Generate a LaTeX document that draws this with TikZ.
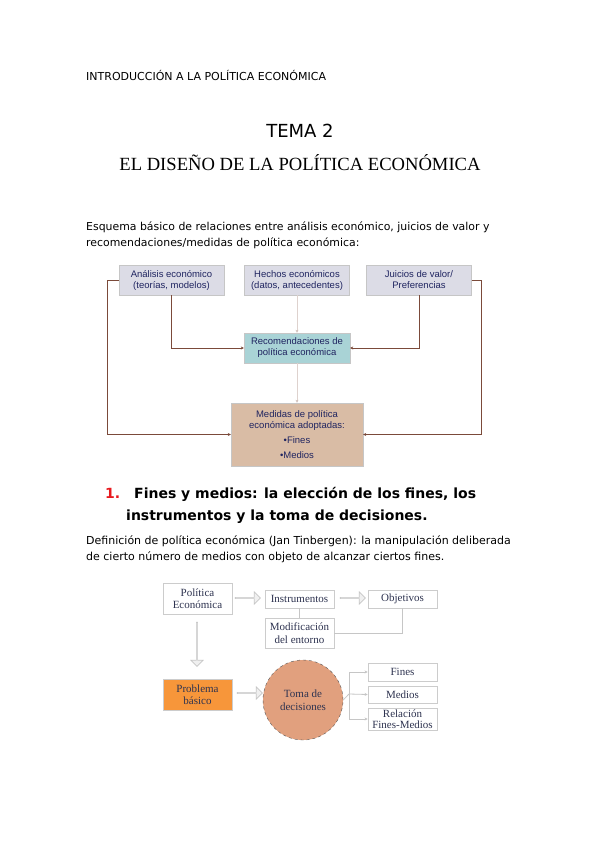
\documentclass[tikz,border=0pt]{standalone}
\usepackage{fontspec}
\setmainfont{DejaVu Sans}
\newfontfamily\arialf{Liberation Sans}
\newfontfamily\timesf{Liberation Serif}
\usetikzlibrary{shapes.arrows,arrows.meta}
\definecolor{navy}{HTML}{1F2460}
\definecolor{lav}{HTML}{DCDCE6}
\definecolor{teal1}{HTML}{A9D3D6}
\definecolor{tan1}{HTML}{D9BCA5}
\definecolor{brownl}{HTML}{7B4A3A}
\definecolor{orng}{HTML}{F7963A}
\definecolor{salmon1}{HTML}{E1A07E}
\definecolor{dtext}{HTML}{2E3350}
\definecolor{redn}{HTML}{E8191E}
\tikzset{
  txt/.style={inner sep=0pt, anchor=base west},
  boxa/.style={draw=gray!45, fill=lav, minimum width=105pt, minimum height=30pt, inner sep=1pt,
     align=center, font=\arialf\fontsize{9.5}{11}\selectfont, text=navy},
  conn/.style={draw=brownl, line width=0.7pt, -{Stealth[length=3pt,width=3pt]}},
  faint/.style={draw=brownl!25, line width=0.5pt, -{Stealth[length=3pt,width=3pt,fill=brownl]}},
  boxb/.style={draw=gray!40, fill=white, minimum width=69pt, inner sep=1pt, line width=0.8pt,
     align=center, font=\timesf\fontsize{11}{12.5}\selectfont, text=dtext},
  gline/.style={draw=gray!45, line width=0.8pt},
  garrow/.style={draw=gray!45, line width=0.8pt, -{Stealth[length=3pt,width=3pt]}},
  harrow/.style={single arrow, draw=gray!45, fill=gray!12, line width=0.7pt, inner sep=0pt,
     minimum width=12pt, single arrow head extend=3pt, single arrow tip angle=90},
}
\begin{document}
\begin{tikzpicture}[x=1pt,y=-1pt]
\fill[white] (0,0) rectangle (599,848);
\useasboundingbox (0,0) rectangle (599,848);

% header texts
\node[txt, font=\fontsize{11}{13}\selectfont] (hdr) at (86,81) {INTRODUCCIÓN A LA POLÍTICA ECONÓMICA};
\node[inner sep=0pt, anchor=base, font=\fontsize{18}{20}\selectfont] (tema) at (300,138) {TEMA 2};
\node[inner sep=0pt, anchor=base, font=\timesf\fontsize{18.6}{22}\selectfont] (titulo) at (300,170) {EL DISEÑO DE LA POLÍTICA ECONÓMICA};
\node[txt, font=\fontsize{10.9}{13}\selectfont] (p1) at (86,230) {Esquema básico de relaciones entre análisis económico, juicios de valor y};
\node[txt, font=\fontsize{10.9}{13}\selectfont] (p2) at (86,246) {recomendaciones/medidas de política económica:};

% diagram 1
\node[boxa] (A) at (171.5,280) {Análisis económico\\(teorías, modelos)};
\node[boxa] (H) at (297,280) {Hechos económicos\\(datos, antecedentes)};
\node[boxa] (J) at (419,280) {Juicios de valor/\\Preferencias};
\node[boxa, fill=teal1, minimum width=106pt] (R) at (297,348) {Recomendaciones de\\política económica};
\node[boxa, fill=tan1, minimum width=132pt, minimum height=63pt] (M) at (297,434.5)
  {Medidas de política\\económica adoptadas:\\[4pt]•Fines\\[4pt]•Medios};

\draw[conn] (A.south) |- (R.west);
\draw[conn] (J.south) |- (R.east);
\draw[faint] (H.south) -- (R.north);
\draw[faint] (R.south) -- (M.north);
\draw[conn] (A.west) -- ++(-11,0) |- (M.west);
\draw[conn] (J.east) -- ++(10,0) |- (M.east);

% section heading
\node[txt, font=\bfseries\fontsize{14}{16}\selectfont, text=redn] (num) at (105,498) {1.};
\node[txt, font=\bfseries\fontsize{14}{16}\selectfont] (h1) at (134,498) {Fines y medios: la elección de los fines, los};
\node[txt, font=\bfseries\fontsize{14}{16}\selectfont] (h2) at (126,520) {instrumentos y la toma de decisiones.};
\node[txt, font=\fontsize{11}{13}\selectfont] (d1) at (86,544) {Definición de política económica (Jan Tinbergen): la manipulación deliberada};
\node[txt, font=\fontsize{11}{13}\selectfont] (d2) at (86,560) {de cierto número de medios con objeto de alcanzar ciertos fines.};

% diagram 2
\node[boxb, minimum height=31pt] (P) at (197.5,598.5) {Política\\Económica};
\node[boxb, minimum height=18pt] (I) at (299.5,599) {Instrumentos};
\node[boxb, minimum height=18pt] (O) at (402.5,599) {Objetivos};
\node[boxb, minimum height=30pt] (Mod) at (299.5,633) {Modificación\\del entorno};
\node[boxb, fill=orng, minimum height=31pt] (PB) at (197.5,694.5) {Problema\\básico};
\node[circle, draw=gray!70!black, dashed, fill=salmon1, minimum size=80pt, inner sep=0pt,
  align=center, font=\timesf\fontsize{11}{12.5}\selectfont, text=dtext] (T) at (303,700) {Toma de\\decisiones};
\node[boxb, minimum height=18pt] (F) at (402.5,672) {Fines};
\node[boxb, minimum height=17pt] (Me) at (402.5,694.5) {Medios};
\node[boxb, minimum height=22pt, font=\timesf\fontsize{11}{11}\selectfont] (Rel) at (402.5,719) {Relación\\Fines-Medios};

\node[harrow, minimum height=25pt] (a1) at (247.5,598) {};
\node[harrow, minimum height=25pt] (a2) at (352.5,598) {};
\node[harrow, minimum height=25pt] (a3) at (249.5,693) {};
\node[harrow, minimum height=44pt, shape border rotate=270] (a4) at (197,644) {};

\draw[gline] (I.south) -- (Mod.north);
\draw[gline] (O.south) |- (Mod.east);
\coordinate (br) at (349,694);
\draw[gline] (T.east) -- (br);
\draw[garrow] (br) |- (F.west);
\draw[garrow] (br) -- (Me.west);
\draw[garrow] (br) |- (Rel.west);
\end{tikzpicture}
\end{document}
